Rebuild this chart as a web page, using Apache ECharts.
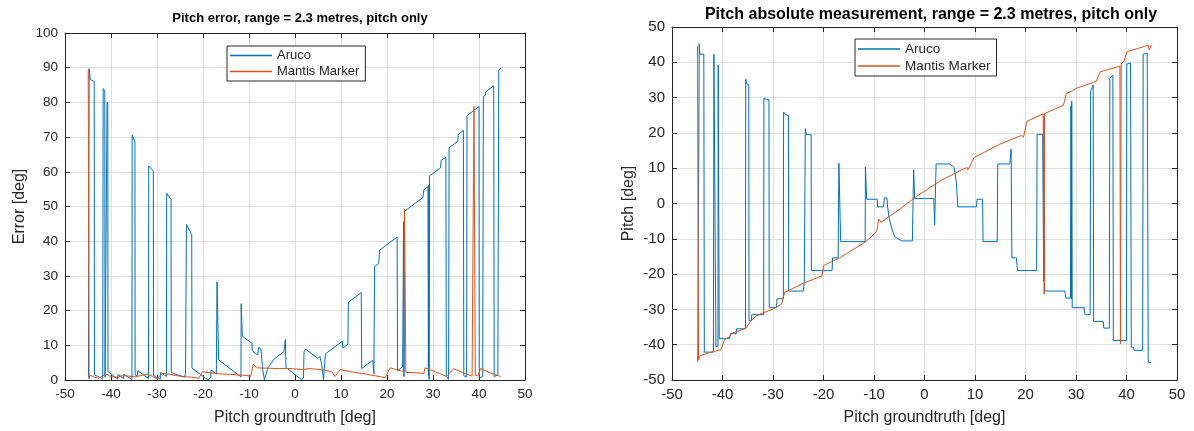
<!DOCTYPE html>
<html>
<head>
<meta charset="utf-8">
<title>Pitch error and pitch measurement</title>
<script src="https://cdn.jsdelivr.net/npm/echarts@6/dist/echarts.min.js"></script>
<style>
  html, body { margin: 0; padding: 0; background: #ffffff; }
  #chart { width: 1194px; height: 431px; }
</style>
</head>
<body>
<div id="chart"></div>
<script>
// Ground-truth pitch (deg) paired with the value of each series.
// Left panel: absolute error of each detector.
const arucoError = [
  [-44.9, 0.5], [-44.75, 89.7], [-44.55, 89.5], [-44.5, 86.6], [-43.65, 86.0],
  [-43.6, 1.5], [-41.8, 0.3], [-41.7, 84.0], [-41.35, 83.4], [-41.3, 0.8],
  [-40.9, 0.4], [-40.85, 80.1], [-40.7, 79.5], [-40.65, 2.4], [-38.6, 0.3],
  [-38.45, 1.6], [-37.3, 0.4], [-37.2, 1.7], [-35.45, 0.1], [-35.4, 70.6],
  [-34.8, 68.6], [-34.75, 1.5], [-34.3, 1.1], [-34.2, 2.7], [-31.85, 0.4],
  [-31.8, 61.7], [-30.8, 60.2], [-30.75, 1.3], [-29.3, 0.2], [-29.2, 2.2],
  [-27.95, 1.0], [-27.9, 53.8], [-26.95, 52.0], [-26.9, 2.1], [-24.0, 0.8],
  [-23.8, 1.8], [-23.6, 44.8], [-22.45, 41.9], [-22.4, 3.4], [-19.0, 0.1],
  [-18.3, 0.7], [-18.25, 2.9], [-17.1, 1.7], [-16.95, 28.3], [-16.6, 5.8],
  [-11.75, 0.9], [-11.7, 22.0], [-11.45, 12.6], [-9.35, 10.6], [-9.3, 8.4],
  [-8.1, 7.2], [-7.9, 9.4], [-7.4, 8.9], [-7.25, 6.3], [-7.0, 2.8],
  [-6.65, 0.1], [-5.9, 3.5], [-4.5, 6.1], [-2.4, 8.2], [-2.1, 11.7],
  [-1.95, 3.6], [1.4, 0.1], [1.85, 0.5], [1.95, 8.1], [2.3, 8.9],
  [5.0, 6.2], [5.4, 6.8], [5.8, 4.5], [6.2, 0.1], [6.6, 7.5],
  [10.3, 11.2], [10.4, 9.2], [11.5, 10.3], [11.6, 22.4], [14.4, 25.2],
  [14.5, 3.3], [16.9, 5.7], [17.15, 1.8], [17.3, 32.7], [18.2, 33.6],
  [18.4, 37.4], [22.2, 41.2], [22.3, 2.7], [23.4, 3.8], [23.6, 45.6],
  [23.7, 1.0], [23.8, 48.6], [27.8, 52.6], [28.0, 54.8], [28.9, 55.7],
  [29.0, 1.4], [29.1, 56.2], [29.15, 0.2], [29.25, 58.8], [31.6, 61.1],
  [31.8, 63.3], [32.8, 64.2], [32.9, 1.1], [33.4, 0.2], [33.5, 66.9],
  [35.4, 68.8], [35.5, 70.8], [36.6, 71.9], [36.7, 1.2], [37.3, 0.9],
  [37.4, 76.2], [38.7, 77.5], [40.0, 78.8], [40.05, 0.5], [40.8, 1.0],
  [40.95, 81.7], [41.4, 82.1], [41.5, 83.1], [43.2, 84.8], [43.3, 1.0],
  [44.1, 1.5], [44.3, 89.2], [44.9, 90.0]
];

const mantisError = [
  [-44.95, 89.5], [-44.85, 89.2], [-44.75, 0.4], [-44.5, 1.4], [-43.6, 0.8],
  [-42.7, 0.5], [-41.8, 1.2], [-40.85, 1.7], [-40.3, 1.1], [-39.75, 1.0],
  [-38.6, 0.8], [-37.5, 1.3], [-36.1, 1.1], [-34.6, 0.9], [-33.2, 1.4],
  [-32.1, 1.7], [-31.0, 1.1], [-30.0, 0.3], [-28.9, 1.9], [-27.4, 1.7],
  [-26.0, 1.3], [-24.5, 1.0], [-22.5, 0.8], [-20.9, 0.5], [-20.15, 2.4],
  [-18.7, 2.1], [-16.5, 1.8], [-14.0, 1.6], [-11.4, 1.4], [-9.6, 1.1],
  [-9.1, 4.5], [-8.15, 3.5], [-6.0, 3.4], [-3.4, 3.3], [-1.1, 3.3],
  [1.6, 3.0], [3.3, 3.3], [6.2, 2.9], [8.0, 2.4], [8.7, 1.0],
  [9.1, 1.7], [9.8, 3.0], [12.5, 2.3], [15.0, 1.8], [17.5, 1.2],
  [19.6, 0.7], [20.7, 3.5], [22.3, 2.9], [23.6, 2.4], [23.8, 49.3],
  [24.1, 2.2], [26.0, 2.1], [28.0, 1.9], [28.3, 3.5], [30.5, 2.4],
  [33.0, 1.0], [34.5, 3.3], [36.5, 2.1], [38.5, 1.1], [38.9, 78.8],
  [39.2, 1.3], [39.9, 1.4], [40.3, 3.3], [42.5, 2.0], [44.7, 1.0]
];

// Right panel: measured pitch of each detector.
const arucoPitch = [
  [-44.9, -44.9], [-44.8, -45.3], [-44.65, -44.8], [-44.6, 45.3], [-44.5, 42.3],
  [-43.7, 42.3], [-43.6, -42.1], [-41.8, -42.1], [-41.7, 42.3], [-41.35, 42.1],
  [-41.3, -40.5], [-40.9, -40.5], [-40.85, 39.2], [-40.7, 38.8], [-40.65, -38.3],
  [-38.6, -38.3], [-38.45, -36.9], [-37.3, -36.9], [-37.2, -35.5], [-35.45, -35.5],
  [-35.4, 35.2], [-35.2, 33.9], [-34.8, 33.7], [-34.75, -33.2], [-34.3, -33.2],
  [-34.2, -31.5], [-31.85, -31.5], [-31.8, 29.9], [-31.3, 29.4], [-30.8, 29.4],
  [-30.75, -29.5], [-29.3, -29.5], [-29.2, -27.0], [-27.95, -27.0], [-27.9, 25.9],
  [-27.5, 25.1], [-26.95, 25.0], [-26.9, -24.8], [-24.0, -24.8], [-23.8, -22.0],
  [-23.6, 21.2], [-23.4, 19.5], [-22.45, 19.5], [-22.4, -19.0], [-18.3, -19.0],
  [-18.2, -15.4], [-17.1, -15.4], [-16.95, 11.4], [-16.75, 11.0], [-16.6, -10.8],
  [-11.75, -10.8], [-11.7, 10.3], [-11.45, 1.2], [-9.35, 1.2], [-9.3, -0.95],
  [-8.1, -0.95], [-7.95, 1.6], [-7.45, 1.6], [-7.3, -1.0], [-7.0, -4.2],
  [-6.5, -7.0], [-5.9, -9.4], [-4.5, -10.6], [-2.4, -10.6], [-2.15, 9.6],
  [-1.95, 1.4], [1.85, 1.4], [2.0, -6.1], [2.3, 11.2], [5.0, 11.2],
  [5.3, 11.6], [5.9, 10.2], [6.3, 6.0], [6.6, -0.95], [10.3, -0.95],
  [10.4, 1.2], [11.5, 1.2], [11.6, -10.8], [14.4, -10.8], [14.5, 11.2],
  [16.9, 11.2], [17.15, 15.4], [17.3, -15.4], [18.2, -15.4], [18.4, -19.0],
  [22.2, -19.0], [22.3, 19.6], [23.4, 19.6], [23.6, -22.0], [23.7, 24.8],
  [23.8, -24.8], [27.8, -24.8], [28.0, -26.8], [28.9, -26.8], [29.0, 27.6],
  [29.1, -27.0], [29.15, 29.0], [29.25, -29.5], [31.6, -29.5], [31.8, -31.5],
  [32.8, -31.5], [32.9, 31.8], [33.4, 33.6], [33.5, -33.4], [35.4, -33.4],
  [35.5, -35.3], [36.6, -35.3], [36.7, 35.5], [37.3, 36.4], [37.4, -38.8],
  [40.0, -38.8], [40.05, 39.5], [40.8, 39.8], [40.95, -40.7], [41.4, -40.7],
  [41.5, -41.6], [43.2, -41.6], [43.3, 42.3], [44.1, 42.6], [44.3, -44.9],
  [44.9, -45.1]
];

const mantisPitch = [
  [-44.95, 44.6], [-44.85, 44.8], [-44.75, -44.3], [-44.65, -44.5], [-44.4, -43.1],
  [-42.5, -42.2], [-40.3, -41.4], [-39.7, -39.0], [-39.5, -38.4], [-38.6, -37.8],
  [-38.2, -36.8], [-35.3, -35.3], [-34.6, -33.6], [-33.3, -31.8], [-32.0, -31.0],
  [-30.0, -29.9], [-28.3, -28.5], [-27.7, -25.2], [-24.0, -22.6], [-20.3, -20.5],
  [-20.0, -17.6], [-16.8, -15.4], [-11.6, -10.8], [-9.5, -8.0], [-9.05, -4.4],
  [-8.6, -5.3], [-6.9, -3.6], [-4.9, -1.6], [-1.6, 2.0], [3.0, 6.3],
  [7.0, 9.3], [8.4, 10.2], [8.6, 9.6], [9.0, 10.6], [9.3, 11.5],
  [9.8, 13.0], [14.9, 16.8], [19.2, 19.3], [19.6, 18.8], [20.3, 23.3],
  [23.5, 25.4], [23.6, 25.7], [23.7, -25.7], [23.8, 25.5], [27.5, 27.8],
  [28.1, 31.2], [29.3, 31.9], [30.0, 32.6], [34.0, 34.6], [34.8, 37.3],
  [38.7, 38.9], [38.8, -39.7], [38.95, 39.6], [39.5, 40.3], [40.1, 43.0],
  [43.6, 44.5], [44.3, 44.8], [44.5, 43.5], [44.9, 44.9]
];

const xTicks = { min: -50, max: 50, step: 10 };
const errTicks = { min: 0, max: 100, step: 10 };
const pitchTicks = { min: -50, max: 50, step: 10 };

const AXIS_COLOR = '#262626';
const GRID_COLOR = '#dfdfdf';
const BLUE = '#0072BD';
const ORANGE = '#D95319';
const FONT = '"Liberation Sans", Arial, Helvetica, sans-serif';

function bottomAxis(gridIndex, name, fontSize) {
  return {
    type: 'value', gridIndex, position: 'bottom',
    min: xTicks.min, max: xTicks.max, interval: xTicks.step,
    name, nameLocation: 'middle', nameGap: 30,
    nameTextStyle: { color: AXIS_COLOR, fontFamily: FONT, fontSize: 16 },
    axisLine: { show: true, onZero: false, lineStyle: { color: AXIS_COLOR, width: 1 } },
    axisTick: { show: true, inside: true, length: 5, lineStyle: { color: AXIS_COLOR } },
    axisLabel: { color: AXIS_COLOR, fontFamily: FONT, fontSize, margin: 7 },
    splitLine: { show: true, lineStyle: { color: GRID_COLOR, width: 1 } }
  };
}
function topAxis(gridIndex) {
  return {
    type: 'value', gridIndex, position: 'top',
    min: xTicks.min, max: xTicks.max, interval: xTicks.step,
    axisLine: { show: true, onZero: false, lineStyle: { color: AXIS_COLOR, width: 1 } },
    axisTick: { show: true, inside: true, length: 5, lineStyle: { color: AXIS_COLOR } },
    axisLabel: { show: false }, splitLine: { show: false }
  };
}
function leftAxis(gridIndex, ticks, name, fontSize, gap) {
  return {
    type: 'value', gridIndex, position: 'left',
    min: ticks.min, max: ticks.max, interval: ticks.step,
    name, nameLocation: 'middle', nameGap: gap, nameRotate: 90,
    nameTextStyle: { color: AXIS_COLOR, fontFamily: FONT, fontSize: 16 },
    axisLine: { show: true, onZero: false, lineStyle: { color: AXIS_COLOR, width: 1 } },
    axisTick: { show: true, inside: true, length: 5, lineStyle: { color: AXIS_COLOR } },
    axisLabel: { color: AXIS_COLOR, fontFamily: FONT, fontSize, margin: 7 },
    splitLine: { show: true, lineStyle: { color: GRID_COLOR, width: 1 } }
  };
}
function rightAxis(gridIndex, ticks) {
  return {
    type: 'value', gridIndex, position: 'right',
    min: ticks.min, max: ticks.max, interval: ticks.step,
    axisLine: { show: true, onZero: false, lineStyle: { color: AXIS_COLOR, width: 1 } },
    axisTick: { show: true, inside: true, length: 5, lineStyle: { color: AXIS_COLOR } },
    axisLabel: { show: false }, splitLine: { show: false }
  };
}
function lineSeries(name, data, color, xi, yi, z) {
  return {
    name, type: 'line', data, xAxisIndex: xi, yAxisIndex: yi,
    symbol: 'none', showSymbol: false, z,
    lineStyle: { color, width: 1 }, itemStyle: { color },
    emphasis: { disabled: true }
  };
}
function legendBox(left, top, fontSize) {
  return {
    orient: 'vertical', left, top,
    data: ['Aruco', 'Mantis Marker'],
    icon: 'rect', itemWidth: 42, itemHeight: 1.5, itemGap: 3,
    padding: [3, 6, 3, 3],
    backgroundColor: '#ffffff', borderColor: AXIS_COLOR, borderWidth: 1,
    textStyle: { color: AXIS_COLOR, fontFamily: FONT, fontSize },
    selectedMode: false
  };
}

const chart = echarts.init(document.getElementById('chart'), null, { renderer: 'canvas' });
chart.setOption({
  animation: false,
  backgroundColor: '#ffffff',
  title: [
    {
      text: 'Pitch error, range = 2.3 metres, pitch only',
      left: 295, top: 7, textAlign: 'center',
      textStyle: { fontFamily: FONT, fontWeight: 'bold', fontSize: 13, color: '#000000' }
    },
    {
      text: 'Pitch absolute measurement, range = 2.3 metres, pitch only',
      left: 926, top: 2, textAlign: 'center',
      textStyle: { fontFamily: FONT, fontWeight: 'bold', fontSize: 16, color: '#000000' }
    }
  ],
  legend: [legendBox(227, 46, 13), legendBox(855, 39, 13.5)],
  grid: [
    { left: 65, top: 33, width: 460, height: 349, containLabel: false },
    { left: 672, top: 27, width: 505, height: 356, containLabel: false }
  ],
  xAxis: [
    bottomAxis(0, 'Pitch groundtruth [deg]', 13.5),
    topAxis(0),
    bottomAxis(1, 'Pitch groundtruth [deg]', 15),
    topAxis(1)
  ],
  yAxis: [
    leftAxis(0, errTicks, 'Error [deg]', 13.5, 37),
    rightAxis(0, errTicks),
    leftAxis(1, pitchTicks, 'Pitch [deg]', 15, 35),
    rightAxis(1, pitchTicks)
  ],
  series: [
    lineSeries('Aruco', arucoError, BLUE, 0, 0, 2),
    lineSeries('Mantis Marker', mantisError, ORANGE, 0, 0, 3),
    lineSeries('Aruco', arucoPitch, BLUE, 2, 2, 2),
    lineSeries('Mantis Marker', mantisPitch, ORANGE, 2, 2, 3)
  ]
});
</script>
</body>
</html>
